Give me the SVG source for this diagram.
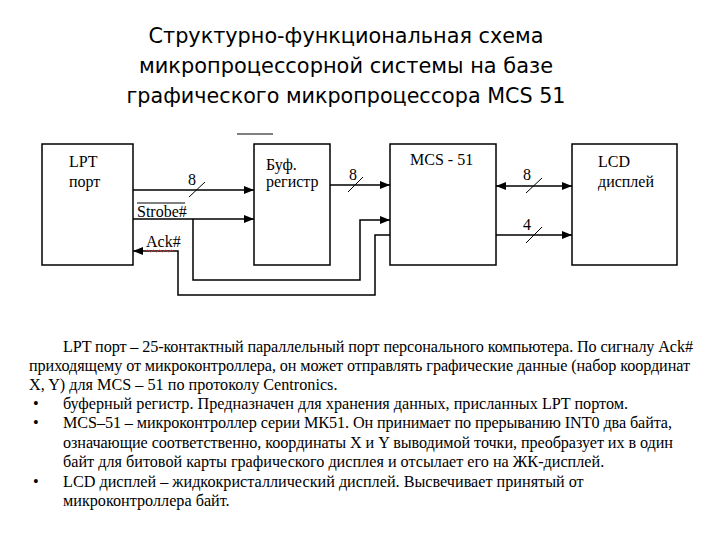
<svg xmlns="http://www.w3.org/2000/svg" width="720" height="540" viewBox="0 0 720 540">
<defs>
<marker id="ah" viewBox="0 0 10 8" refX="10" refY="4" markerWidth="10" markerHeight="8" markerUnits="userSpaceOnUse" orient="auto-start-reverse">
<path d="M0,0 L10,4 L0,8 Z" fill="#000"/>
</marker>
</defs>
<style>
.box{fill:#fff;stroke:#000;stroke-width:1.5}
.ln{fill:none;stroke:#000;stroke-width:1.5}
.sl{fill:none;stroke:#000;stroke-width:1}
.lbl{font-family:"Liberation Serif","Times New Roman",serif;font-size:16px;fill:#000}
.title{font-family:"DejaVu Sans","Liberation Sans",sans-serif;font-size:21px;fill:#000;text-anchor:middle}
.body{font-family:"Liberation Serif","Times New Roman",serif;font-size:16.2px;fill:#000}
</style>
<rect width="720" height="540" fill="#fff"/>
<g id="title">
<text class="title" x="346" y="43" textLength="395" lengthAdjust="spacingAndGlyphs">Структурно-функциональная схема</text>
<text class="title" x="346" y="73" textLength="414" lengthAdjust="spacingAndGlyphs">микропроцессорной системы на базе</text>
<text class="title" x="346" y="103" textLength="439" lengthAdjust="spacingAndGlyphs">графического микропроцессора MCS 51</text>
</g>
<line x1="237" y1="134" x2="273" y2="134" class="sl"/>
<g id="lpt">
<rect class="box" x="42" y="144" width="91" height="121"/>
<text class="lbl" x="69" y="167">LPT</text>
<text class="lbl" x="69" y="187">порт</text>
</g>
<g id="buf">
<rect class="box" x="254" y="144" width="76" height="121"/>
<text class="lbl" x="266" y="170">Буф.</text>
<text class="lbl" x="266" y="187">регистр</text>
</g>
<g id="mcs">
<rect class="box" x="390" y="144" width="106" height="121"/>
<text class="lbl" x="410" y="165">MCS - 51</text>
</g>
<g id="lcd">
<rect class="box" x="572" y="144" width="105" height="121"/>
<text class="lbl" x="598" y="167">LCD</text>
<text class="lbl" x="598" y="187">дисплей</text>
</g>
<g id="connectors">
<line class="ln" x1="133" y1="190" x2="254" y2="190" marker-end="url(#ah)"/>
<line class="sl" x1="189" y1="197" x2="205" y2="182"/>
<text class="lbl" x="188" y="185">8</text>
<line class="ln" x1="133" y1="219" x2="254" y2="219" marker-end="url(#ah)"/>
<polyline class="ln" points="193,219 193,280 360,280 360,220 390,220" marker-end="url(#ah)"/>
<text class="lbl" x="137" y="217" font-size="15">Strobe#</text>
<line class="sl" x1="137" y1="203" x2="185" y2="203"/>
<polyline class="ln" points="390,235 375,235 375,295 178,295 178,251 133,251" marker-end="url(#ah)"/>
<text class="lbl" x="146" y="247" font-size="15">Ack#</text>
<path d="M146,251 q1.5,-2 3,0 t3,0 t3,0 t3,0 t3,0 t3,0 t3,0 t3,0 t3,0" fill="none" stroke="#d33" stroke-width="0.8"/>
<line class="ln" x1="330" y1="185" x2="390" y2="185" marker-end="url(#ah)"/>
<line class="sl" x1="348" y1="192" x2="363" y2="177"/>
<text class="lbl" x="349" y="180">8</text>
<line class="ln" x1="496" y1="186" x2="572" y2="186" marker-start="url(#ah)" marker-end="url(#ah)"/>
<line class="sl" x1="526" y1="193" x2="542" y2="178"/>
<text class="lbl" x="523" y="180">8</text>
<line class="ln" x1="496" y1="235" x2="572" y2="235" marker-end="url(#ah)"/>
<line class="sl" x1="526" y1="243" x2="542" y2="227"/>
<text class="lbl" x="523" y="230">4</text>
</g>
<g id="text">
<text class="body" x="63" y="352" textLength="630" lengthAdjust="spacing">LPT порт – 25-контактный параллельный порт персонального компьютера. По сигналу Ack#</text>
<text class="body" x="29" y="371" textLength="661" lengthAdjust="spacing">приходящему от микроконтроллера, он может отправлять графические данные (набор координат</text>
<text class="body" x="29" y="390">X, Y) для MCS – 51 по протоколу Centronics.</text>
<text class="body" x="33" y="409">•</text>
<text class="body" x="63" y="409">буферный регистр. Предназначен для хранения данных, присланных LPT портом.</text>
<text class="body" x="33" y="428">•</text>
<text class="body" x="63" y="428" textLength="609" lengthAdjust="spacing">MCS–51 – микроконтроллер серии МК51. Он принимает по прерыванию INT0 два байта,</text>
<text class="body" x="63" y="448" textLength="610" lengthAdjust="spacing">означающие соответственно, координаты X и Y выводимой точки, преобразует их в один</text>
<text class="body" x="63" y="467">байт для битовой карты графического дисплея и отсылает его на ЖК-дисплей.</text>
<text class="body" x="33" y="487">•</text>
<text class="body" x="63" y="487">LCD дисплей – жидкокристаллический дисплей. Высвечивает принятый от</text>
<text class="body" x="63" y="506">микроконтроллера байт.</text>
</g>
</svg>
